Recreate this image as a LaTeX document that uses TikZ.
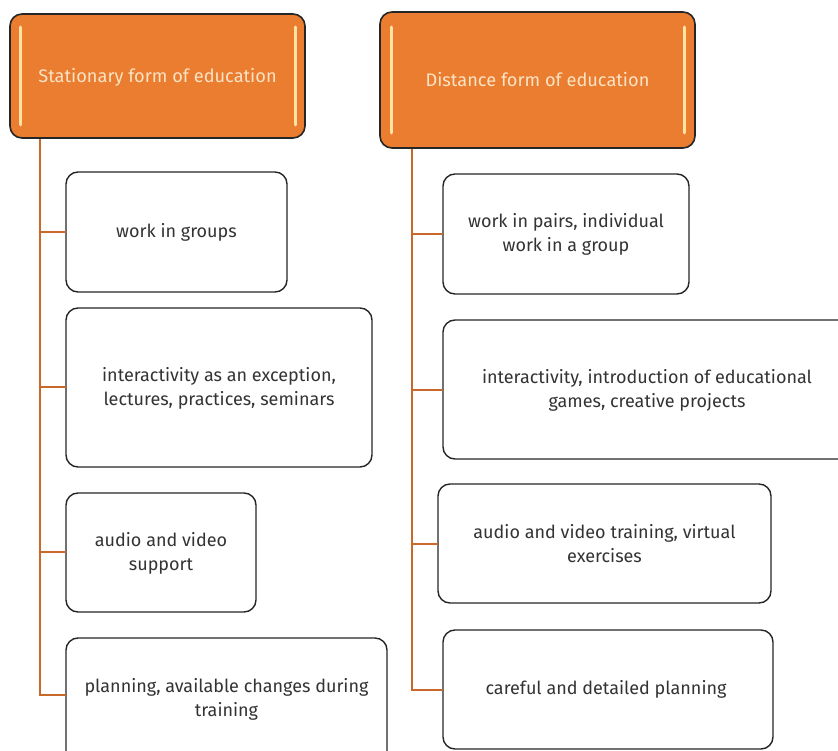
\documentclass[tikz,border=0pt]{standalone}
\usepackage{fontspec}
\setmainfont{Fira Sans}
\definecolor{hdrfill}{HTML}{EA7D2F}
\definecolor{hdrtext}{HTML}{FBE3C6}
\definecolor{gloss}{HTML}{FFE3A0}
\definecolor{linkc}{HTML}{C9682B}
\definecolor{txt}{HTML}{333333}
\begin{document}
\begin{tikzpicture}[x=1pt,y=-1pt,
  hdr/.style={draw=black!85,line width=1.6pt,fill=hdrfill,rounded corners=12pt},
  hdrtxt/.style={text=hdrtext,font=\fontsize{18.2}{21}\selectfont},
  itembox/.style={draw=black!85,line width=1.4pt,fill=white,rounded corners=12pt},
  itemtxt/.style={text=txt,font=\fontsize{18}{24}\selectfont,align=center},
  link/.style={draw=linkc,line width=1.6pt},
  glossline/.style={draw=gloss,line width=3pt,line cap=round}]
\useasboundingbox (0,0) rectangle (838,751);
\clip (0,0) rectangle (838,751);
% headers
\draw[hdr] (10,14) rectangle (305,138);
\node[hdrtxt] (h1) at (157.5,77) {Stationary form of education};
\draw[glossline] (20,27) -- (20,125);
\draw[glossline] (295,27) -- (295,125);
\draw[hdr] (380,12) rectangle (695,148);
\node[hdrtxt] (h2) at (537.5,80) {Distance form of education};
\draw[glossline] (391,27) -- (391,133);
\draw[glossline] (684,27) -- (684,133);
\coordinate (t1) at (40,139);
\coordinate (t2) at (412,149);
% left boxes
\draw[itembox] (66,172) rectangle (287,292);
\node[itemtxt] (l1) at (176.5,232) {work in groups};
\draw[itembox] (66,308) rectangle (372,467);
\node[itemtxt] (l2) at (219,388) {interactivity as an exception,\\lectures, practices, seminars};
\draw[itembox] (66,493) rectangle (256,612);
\node[itemtxt] (l3) at (161,553) {audio and video\\support};
\draw[itembox] (66,638) rectangle (387,770);
\node[itemtxt] (l4) at (226.5,699) {planning, available changes during\\training};
% right boxes
\draw[itembox] (443,174) rectangle (689,294);
\node[itemtxt] (r1) at (566,234) {work in pairs, individual\\work in a group};
\draw[itembox] (443,320) rectangle (860,459);
\node[itemtxt] (r2) at (647,390) {interactivity, introduction of educational\\games, creative projects};
\draw[itembox] (438,484) rectangle (771,603);
\node[itemtxt] (r3) at (604.5,544) {audio and video training, virtual\\exercises};
\draw[itembox] (443,630) rectangle (773,749);
\node[itemtxt] (r4) at (606,689) {careful and detailed planning};
% connectors
\draw[link] (t1) -- (40,695) -- (66,695);
\draw[link] (40,232) -- (66,232);
\draw[link] (40,387) -- (66,387);
\draw[link] (40,552) -- (66,552);
\draw[link] (t2) -- (412,690) -- (443,690);
\draw[link] (412,234) -- (443,234);
\draw[link] (412,390) -- (443,390);
\draw[link] (412,544) -- (438,544);
\end{tikzpicture}
\end{document}
